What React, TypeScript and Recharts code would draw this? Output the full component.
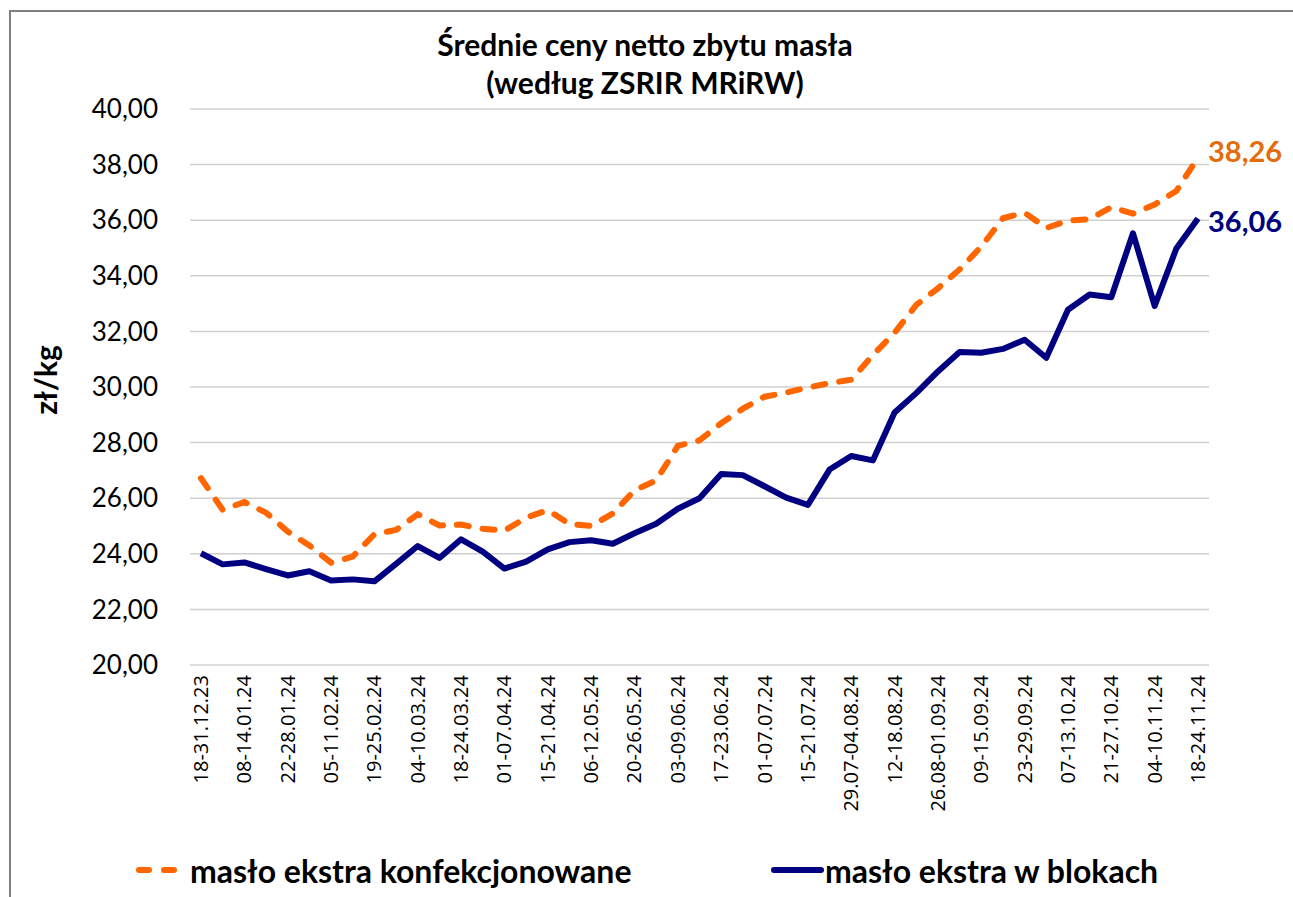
import React from 'react';
import { LineChart, Line, XAxis, YAxis, CartesianGrid, Legend } from 'recharts';

// tygodnie notowań (co drugi podpisany na osi)
const weeks = [
  '18-31.12.23', '01-07.01.24', '08-14.01.24', '15-21.01.24', '22-28.01.24', '29.01-04.02.24',
  '05-11.02.24', '12-18.02.24', '19-25.02.24', '26.02-03.03.24', '04-10.03.24', '11-17.03.24',
  '18-24.03.24', '25-31.03.24', '01-07.04.24', '08-14.04.24', '15-21.04.24', '22.04-05.05.24',
  '06-12.05.24', '13-19.05.24', '20-26.05.24', '27.05-02.06.24', '03-09.06.24', '10-16.06.24',
  '17-23.06.24', '24-30.06.24', '01-07.07.24', '08-14.07.24', '15-21.07.24', '22-28.07.24',
  '29.07-04.08.24', '05-11.08.24', '12-18.08.24', '19-25.08.24', '26.08-01.09.24', '02-08.09.24',
  '09-15.09.24', '16-22.09.24', '23-29.09.24', '30.09-06.10.24', '07-13.10.24', '14-20.10.24',
  '21-27.10.24', '28.10-03.11.24', '04-10.11.24', '11-17.11.24', '18-24.11.24',
];

const konfekcjonowane = [
  26.72, 25.58, 25.86, 25.48, 24.8, 24.3, 23.68, 23.9, 24.7, 24.86, 25.42, 25.02,
  25.05, 24.9, 24.83, 25.3, 25.57, 25.07, 25.0, 25.45, 26.28, 26.64, 27.88, 28.08,
  28.7, 29.22, 29.65, 29.8, 29.98, 30.14, 30.26, 31.15, 31.95, 32.95, 33.55, 34.23,
  35.05, 36.07, 36.27, 35.72, 35.98, 36.04, 36.47, 36.24, 36.56, 37.05, 38.26,
];

const wBlokach = [
  24.02, 23.62, 23.69, 23.45, 23.22, 23.37, 23.04, 23.08, 23.01, 23.64, 24.28, 23.85,
  24.52, 24.08, 23.47, 23.72, 24.16, 24.42, 24.49, 24.36, 24.74, 25.08, 25.62, 26.0,
  26.87, 26.83, 26.43, 26.02, 25.76, 27.03, 27.52, 27.36, 29.08, 29.78, 30.56, 31.26,
  31.23, 31.37, 31.7, 31.05, 32.78, 33.33, 33.23, 35.53, 32.92, 34.98, 36.06,
];

const yTicks = [20, 22, 24, 26, 28, 30, 32, 34, 36, 38, 40];

const data = weeks.map((w, i) => ({
  week: w,
  konf: konfekcjonowane[i],
  blok: wBlokach[i],
}));

const ORANGE = '#FF6600';
const NAVY = '#000080';
const FONT = 'Lato, "Open Sans", sans-serif';

const fmt = (v: number) => v.toFixed(2).replace('.', ',');

const XTick = ({ x, y, payload }: any) => (
  <text
    x={x}
    y={y + 2}
    transform={`rotate(-90 ${x} ${y + 2})`}
    textAnchor="end"
    dy="0.35em"
    fontSize={20}
    fontFamily='"Open Sans", sans-serif'
    fill="#000"
  >
    {payload.value}
  </text>
);

const lastLabel = (color: string, dy: number) => (props: any) => {
  const { x, y, index, value } = props;
  if (index !== weeks.length - 1) return null;
  return (
    <text x={x + 10} y={y + dy} fill={color} fontSize={29} fontWeight="bold" fontFamily={FONT}>
      {fmt(value)}
    </text>
  );
};

const LegendContent = () => {
  const items = [
    { name: 'masło ekstra konfekcjonowane', color: ORANGE, dash: '10 15', left: 135 },
    { name: 'masło ekstra w blokach', color: NAVY, dash: undefined, left: 770 },
  ];
  return (
    <div style={{ position: 'relative', height: 44 }}>
      {items.map((it) => (
        <div
          key={it.name}
          style={{ position: 'absolute', left: it.left, top: 0, display: 'flex', alignItems: 'center', height: 44 }}
        >
          <svg width={55} height={12}>
            <line x1={4} y1={6} x2={51} y2={6} stroke={it.color} strokeWidth={6} strokeLinecap="round" strokeDasharray={it.dash} />
          </svg>
          <span style={{ fontFamily: FONT, fontWeight: 'bold', fontSize: 32, color: '#000', whiteSpace: 'nowrap' }}>
            {it.name}
          </span>
        </div>
      ))}
    </div>
  );
};

export default function App() {
  return (
    <div style={{ position: 'absolute', left: 0, top: 0, width: 1293, height: 897, background: '#fff', overflow: 'hidden' }}>
      <div
        style={{
          position: 'absolute', left: 9, top: 10, width: 1284, height: 887,
          borderLeft: '2px solid #808080', borderTop: '2px solid #808080', boxSizing: 'border-box',
        }}
      />
      <div
        style={{
          position: 'absolute', left: 0, top: 25, width: 1290, textAlign: 'center',
          fontFamily: FONT, fontWeight: 'bold', fontSize: 30, lineHeight: '38px', color: '#000',
        }}
      >
        <div>Średnie ceny netto zbytu masła</div>
        <div>(według ZSRIR MRiRW)</div>
      </div>
      <LineChart width={1293} height={897} data={data} margin={{ top: 109, right: 84, bottom: 0, left: 0 }}>
        <CartesianGrid vertical={false} stroke="#D0D0D0" strokeWidth={1.5} />
        <XAxis
          dataKey="week"
          interval={1}
          tick={<XTick />}
          tickLine={false}
          axisLine={false}
          height={232}
          padding={{ left: 11, right: 11 }}
        />
        <YAxis
          domain={[20, 40]}
          ticks={yTicks}
          tickFormatter={fmt}
          width={190}
          tickLine={false}
          axisLine={false}
          tickSize={0}
          tickMargin={32}
          tick={{ fontSize: 26, fontFamily: FONT, fill: '#000' }}
          label={() => (
            <text
              x={57}
              y={380}
              transform="rotate(-90 57 380)"
              textAnchor="middle"
              fontSize={30}
              fontWeight="bold"
              fontFamily={FONT}
              fill="#000"
            >
              zł/kg
            </text>
          )}
        />
        <Legend
          layout="horizontal"
          verticalAlign="middle"
          align="center"
          wrapperStyle={{ top: 848, left: 0, width: 1293 }}
          content={<LegendContent />}
        />
        <Line
          type="linear"
          dataKey="konf"
          name="masło ekstra konfekcjonowane"
          stroke={ORANGE}
          strokeWidth={6}
          strokeDasharray="12 14"
          strokeLinecap="round"
          dot={false}
          activeDot={false}
          isAnimationActive={false}
          label={lastLabel('#E46C0A', 5)}
        />
        <Line
          type="linear"
          dataKey="blok"
          name="masło ekstra w blokach"
          stroke={NAVY}
          strokeWidth={6}
          strokeLinejoin="round"
          dot={false}
          activeDot={false}
          isAnimationActive={false}
          label={lastLabel(NAVY, 13)}
        />
      </LineChart>
    </div>
  );
}
